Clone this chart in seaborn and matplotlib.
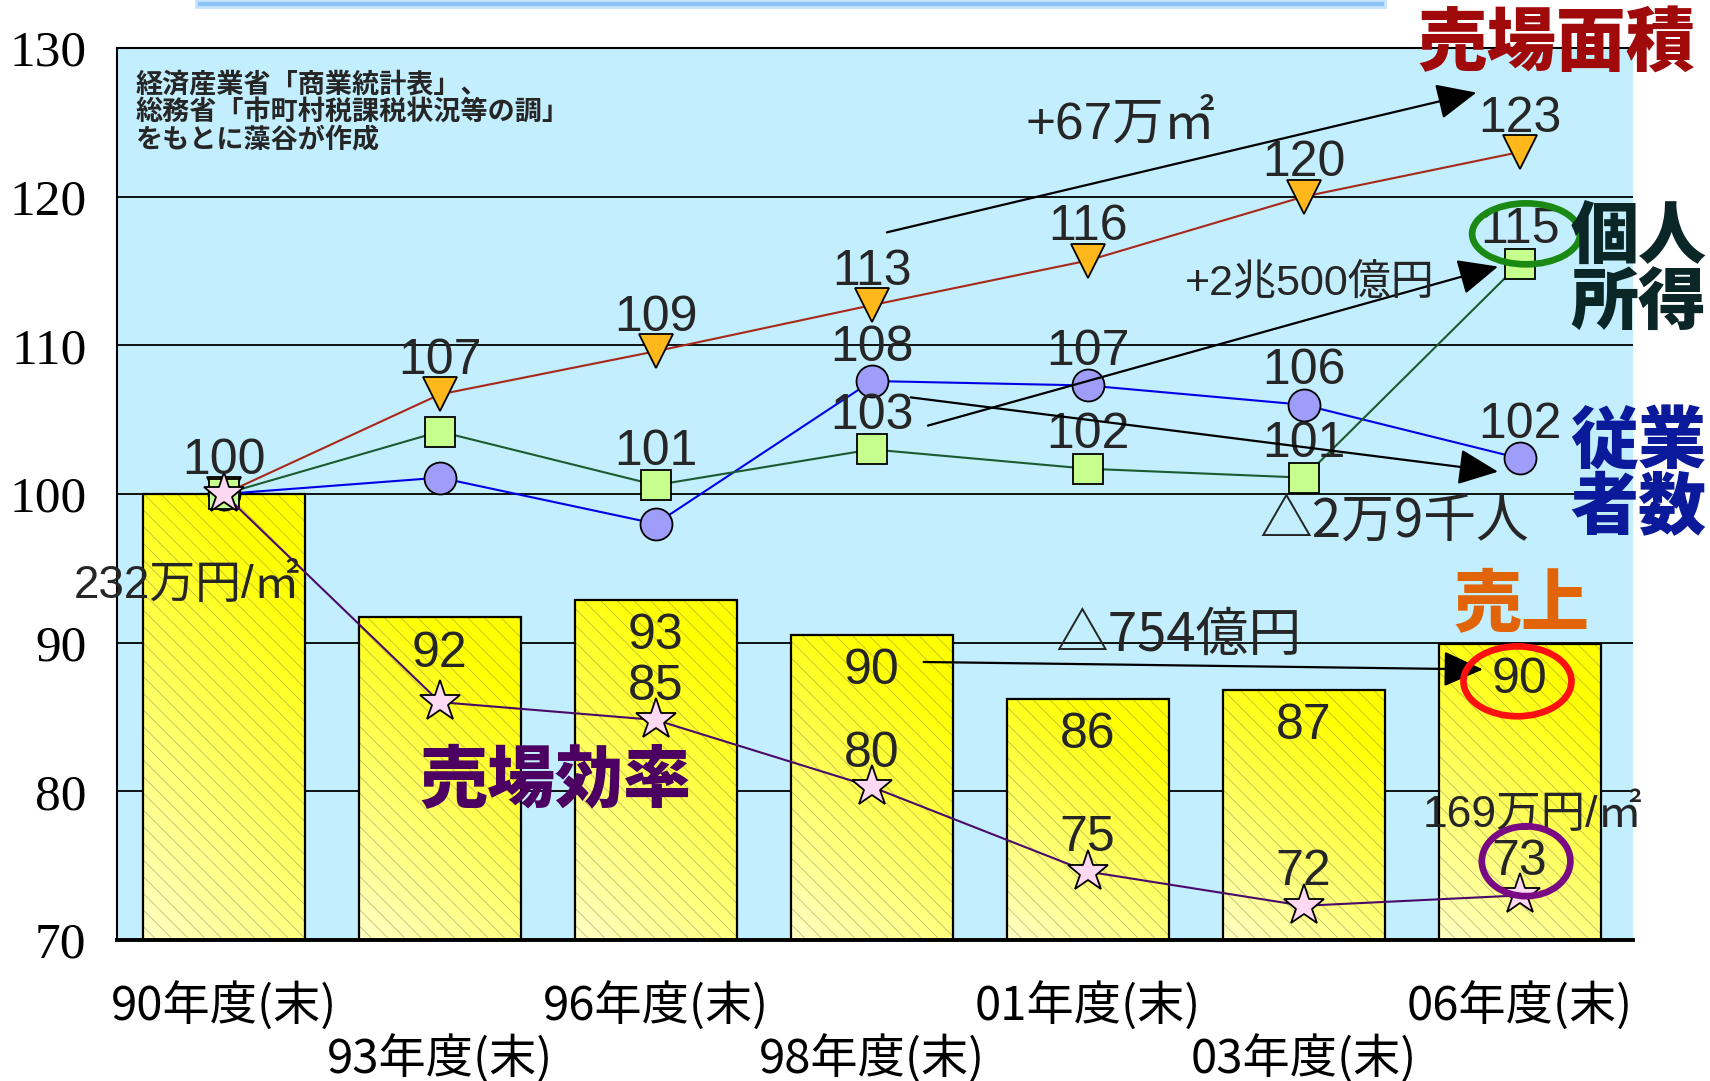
import numpy as np
import pandas as pd
import matplotlib
matplotlib.use('Agg')
import matplotlib.pyplot as plt
import seaborn as sns
from matplotlib.patches import Rectangle, Ellipse
from matplotlib.colors import LinearSegmentedColormap

# ---------------- data ----------------
years = ['90年度(末)', '93年度(末)', '96年度(末)', '98年度(末)', '01年度(末)', '03年度(末)', '06年度(末)']
sales = [100, 91.7, 92.9, 90.5, 86.2, 86.8, 89.9]
sales_labels = ['', '92', '93', '90', '86', '87', '90']
floor_area = [100, 106.7, 109.6, 112.7, 115.7, 120.0, 123.0]
floor_labels = ['100', '107', '109', '113', '116', '120', '123']
income = [100, 104.2, 100.6, 103.0, 101.7, 101.1, 115.5]
income_labels = ['', '', '101', '103', '102', '101', '115']
employees = [100, 101.1, 98.0, 107.6, 107.3, 106.0, 102.4]
employee_labels = ['', '', '', '108', '107', '106', '102']
efficiency = [100, 86.0, 84.8, 80.3, 74.6, 72.3, 73.0]
efficiency_labels = ['', '', '85', '80', '75', '72', '73']
y_ticks = [70, 80, 90, 100, 110, 120, 130]
source_note = '経済産業省「商業統計表」、\n総務省「市町村税課税状況等の調」\nをもとに藻谷が作成'

# ---------------- style ----------------
sns.set_style('white')
plt.rcParams['font.family'] = ['Noto Sans CJK JP', 'DejaVu Sans']
plt.rcParams['hatch.linewidth'] = 0.6
NUM = ['Liberation Sans', 'Noto Sans CJK JP']
CJK = ['Noto Sans CJK JP', 'DejaVu Sans']

fig = plt.figure(figsize=(17.1, 10.81), dpi=100)
ax = fig.add_axes([117/1710, 141/1081, 1516/1710, 892/1081])
ax.set_facecolor('#C2EEFD')

# ---------------- bars ----------------
df = pd.DataFrame({'year': years, 'sales': sales})
sns.barplot(data=df, x='year', y='sales', ax=ax, width=0.75, color='#FFFF40',
            saturation=1, edgecolor='black', linewidth=1.6, zorder=2)

cmap = LinearSegmentedColormap.from_list('yel', ['#FFFFC4', '#FFFF00'])
gy, gx = np.mgrid[0:1:200j, 0:1:60j]
grad = np.clip(0.85 * gy + 0.35 * gx, 0, 1)
for p in list(ax.patches):
    x0, w = p.get_x(), p.get_width()
    top = p.get_y() + p.get_height()
    p.set_facecolor('none')
    p.set_zorder(2.4)
    ax.imshow(grad, extent=(x0, x0 + w, 70, top), origin='lower', cmap=cmap,
              aspect='auto', vmin=0, vmax=1, zorder=2.0, interpolation='bilinear')
    ax.add_patch(Rectangle((x0, 70), w, top - 70, fill=False, hatch='\\\\',
                           edgecolor=(0.45, 0.45, 0.3, 0.45), lw=0, zorder=2.2))

# ---------------- lines ----------------
pos = np.arange(len(years))
series = [
    (floor_area, 'v', '#FFB81C', '#A8281A', floor_labels, 4, 25),
    (employees, 'o', '#9E9EFA', '#0000E6', employee_labels, 5, 23),
    (income, 's', '#C6FF8E', '#1C5A30', income_labels, 6, 22),
    (efficiency, '*', '#FFD9F2', '#4A0A6A', efficiency_labels, 7, 31),
]
for vals, mk, fc, lc, labs, z, ms in series:
    sns.lineplot(x=pos, y=vals, ax=ax, color=lc, lw=1.5, marker=mk, markersize=ms,
                 markerfacecolor=fc, markeredgecolor='black', markeredgewidth=1.3,
                 zorder=z, sort=False, estimator=None)
    for i, t in enumerate(labs):
        if t:
            ax.annotate(t, (pos[i], vals[i]), xytext=(0, 24), textcoords='offset points',
                        ha='center', va='center', fontsize=36, family=NUM, zorder=8)

for i, t in enumerate(sales_labels):
    if t:
        ax.annotate(t, (pos[i], sales[i]), xytext=(0, -26), textcoords='offset points',
                    ha='center', va='center', fontsize=36, family=NUM, zorder=8)

# ---------------- annotations ----------------
akw = dict(arrowstyle='-|>,head_length=0.4,head_width=0.18', color='black', lw=1.6,
           mutation_scale=62, shrinkA=0, shrinkB=0)
ax.annotate('', xy=(5.80, 127.0), xytext=(3.07, 117.6), arrowprops=akw, zorder=9)
ax.annotate('', xy=(5.90, 115.3), xytext=(3.26, 104.6), arrowprops=akw, zorder=9)
ax.annotate('', xy=(5.90, 101.5), xytext=(3.18, 106.5), arrowprops=akw, zorder=9)
ax.annotate('', xy=(5.83, 88.2), xytext=(3.24, 88.7), arrowprops=akw, zorder=9)

ax.text(4.15, 124.8, '+67万㎡', fontsize=37, family=NUM, ha='center', va='center', zorder=9)
ax.text(5.03, 114.2, '+2兆500億円', fontsize=31, family=NUM, ha='center', va='center', zorder=9)
ax.text(5.42, 98.2, '△2万9千人', fontsize=38, family=CJK, ha='center', va='center', zorder=9)
ax.text(4.42, 90.5, '△754億円', fontsize=38, family=CJK, ha='center', va='center', zorder=9)
ax.text(-0.17, 93.8, '232万円/㎡', fontsize=33, family=NUM, ha='center', va='center', zorder=9)
ax.text(6.06, 78.4, '169万円/㎡', fontsize=32, family=NUM, ha='center', va='center', zorder=9)

ax.add_patch(Ellipse((5.99, 87.4), 0.50, 4.7, fill=False, edgecolor='#FF1010', lw=4.8, zorder=9))
ax.add_patch(Ellipse((6.03, 75.3), 0.41, 4.7, fill=False, edgecolor='#7A0A84', lw=4.8, zorder=9))
ax.add_patch(Ellipse((6.03, 117.5), 0.50, 4.1, fill=False, edgecolor='#1A8A14', lw=4.8, zorder=9))

ax.text(0.012, 0.975, source_note, transform=ax.transAxes, fontsize=19.5, fontweight='bold',
        family=CJK, ha='left', va='top', linespacing=0.97, zorder=9)

big = dict(fontweight='heavy', family=CJK, ha='center', va='center', linespacing=0.95, zorder=10)
fig.text(0.9105, 0.959, '売場面積', fontsize=50, color='#A00A0A', **big)
fig.text(0.958, 0.750, '個人\n所得', fontsize=49, color='#0A2626', **big)
fig.text(0.958, 0.560, '従業\n者数', fontsize=49, color='#0A1A9A', **big)
fig.text(0.890, 0.440, '売上', fontsize=49, color='#E26408', **big)
fig.text(0.3246, 0.2765, '売場効率', fontsize=49, color='#4B0062', **big)

fig.patches.append(Rectangle((196/1710, 1 - 7/1081), 1189/1710, 7/1081, transform=fig.transFigure,
                             facecolor='#8CC4F5', edgecolor='#C6E4FF', lw=2))

# ---------------- axes ----------------
ax.set_xlim(-0.495, 6.525)
ax.set_ylim(70, 130)
ax.set_yticks(y_ticks)
ax.set_yticklabels([str(v) for v in y_ticks], fontsize=37, family=['Liberation Serif'], color='black')
ax.set_xticks(pos)
ax.set_xticklabels([('\n' if i % 2 else '') + t for i, t in enumerate(years)], fontsize=34,
                   family=CJK, linespacing=1.1, color='black')
ax.tick_params(axis='y', length=0, pad=22, labelcolor='black')
ax.tick_params(axis='x', length=0, pad=31, labelcolor='black')
ax.set_xlabel('')
ax.set_ylabel('')
ax.yaxis.grid(True, color='black', lw=1.3)
ax.xaxis.grid(False)
ax.set_axisbelow(True)
for s in ['left', 'top']:
    ax.spines[s].set_color('black')
    ax.spines[s].set_linewidth(1.5)
ax.spines['bottom'].set_color('black')
ax.spines['bottom'].set_linewidth(2.8)
ax.spines['right'].set_visible(False)
leg = ax.get_legend()
if leg:
    leg.remove()

fig.savefig('out.png', dpi=100)
